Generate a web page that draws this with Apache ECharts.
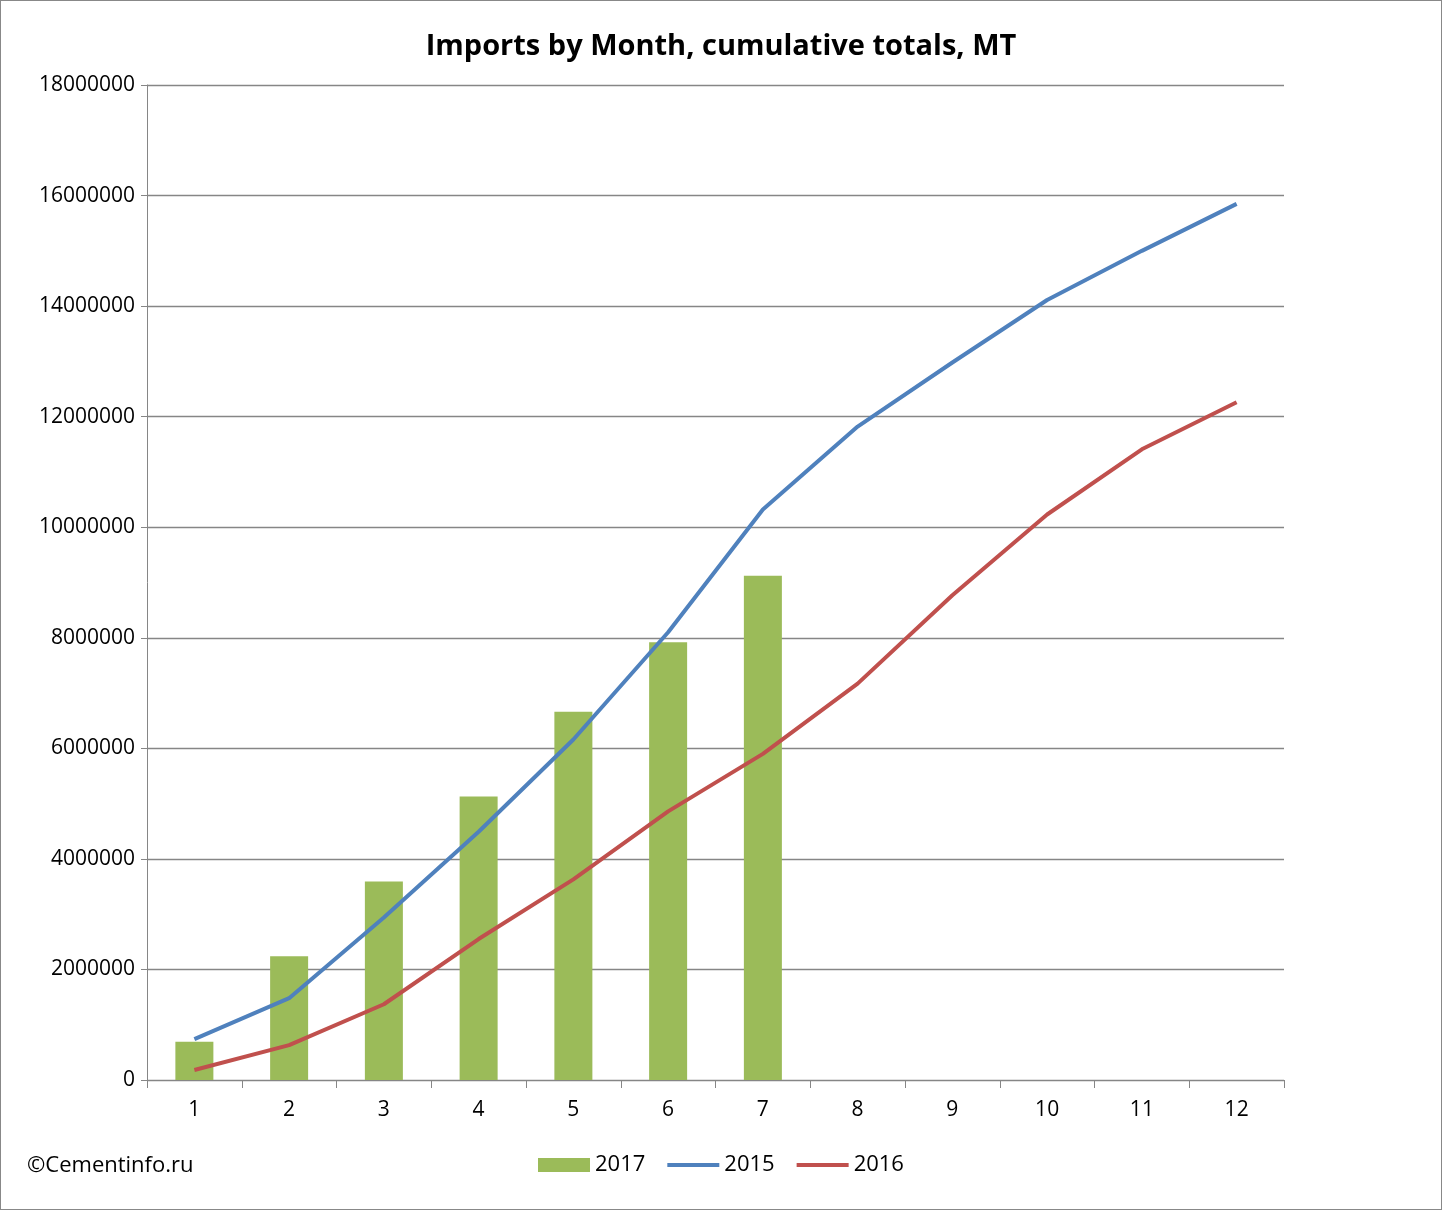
<!DOCTYPE html>
<html><head><meta charset="utf-8">
<script src="https://cdn.jsdelivr.net/npm/echarts@6/dist/echarts.min.js"></script>
<style>html,body{margin:0;padding:0;background:#fff}#c{width:1442px;height:1210px;box-sizing:border-box;border:1.5px solid #888}</style>
</head><body><div id="c"></div>
<script>
const months=['1','2','3','4','5','6','7','8','9','10','11','12'];
const s2017=[690000,2240000,3590000,5130000,6660000,7920000,9120000];
const s2015=[740000,1480000,2940000,4490000,6160000,8100000,10320000,11820000,12980000,14110000,15000000,15850000];
const s2016=[180000,630000,1370000,2550000,3630000,4860000,5900000,7170000,8770000,10230000,11410000,12260000];
const font='"Open Sans", "Liberation Sans", sans-serif';
const ch=echarts.init(document.getElementById('c'));
ch.setOption({
 animation:false,
 textStyle:{fontFamily:font},
 title:{text:'Imports by Month, cumulative totals, MT',left:'center',top:26,textStyle:{fontSize:29,fontWeight:'bold',color:'#000',fontFamily:font}},
 graphic:[{type:'text',left:26,top:1154,style:{text:'©Cementinfo.ru',fontSize:22,fill:'#000',fontFamily:font}}],
 legend:{bottom:28,left:532,itemWidth:52,itemHeight:14,itemGap:22,textStyle:{fontSize:22,color:'#000'},data:[{name:'2017',icon:'rect'},{name:'2015',icon:'path://M0,6H52V10H0Z'},{name:'2016',icon:'path://M0,6H52V10H0Z'}]},
 grid:{left:146,right:157,top:84,bottom:129},
 xAxis:{type:'category',data:months,boundaryGap:true,axisLine:{lineStyle:{color:'#868686'}},axisTick:{show:true,length:8,interval:0,lineStyle:{color:'#868686'}},axisLabel:{fontSize:21,color:'#000',margin:20}},
 yAxis:{type:'value',min:0,max:18000000,interval:2000000,axisLine:{show:true,lineStyle:{color:'#868686'}},axisTick:{show:true,length:6,lineStyle:{color:'#868686'}},splitLine:{lineStyle:{color:'#868686',width:1.3}},axisLabel:{fontSize:21,color:'#000',margin:12,formatter:v=>String(v)}},
 series:[
  {name:'2017',type:'bar',data:s2017,barWidth:38,itemStyle:{color:'#9BBB59'}},
  {name:'2015',type:'line',data:s2015,symbol:'none',lineStyle:{width:4,color:'#4F81BD'},itemStyle:{color:'#4F81BD'}},
  {name:'2016',type:'line',data:s2016,symbol:'none',lineStyle:{width:4,color:'#C0504D'},itemStyle:{color:'#C0504D'}}
 ]
});
</script></body></html>
